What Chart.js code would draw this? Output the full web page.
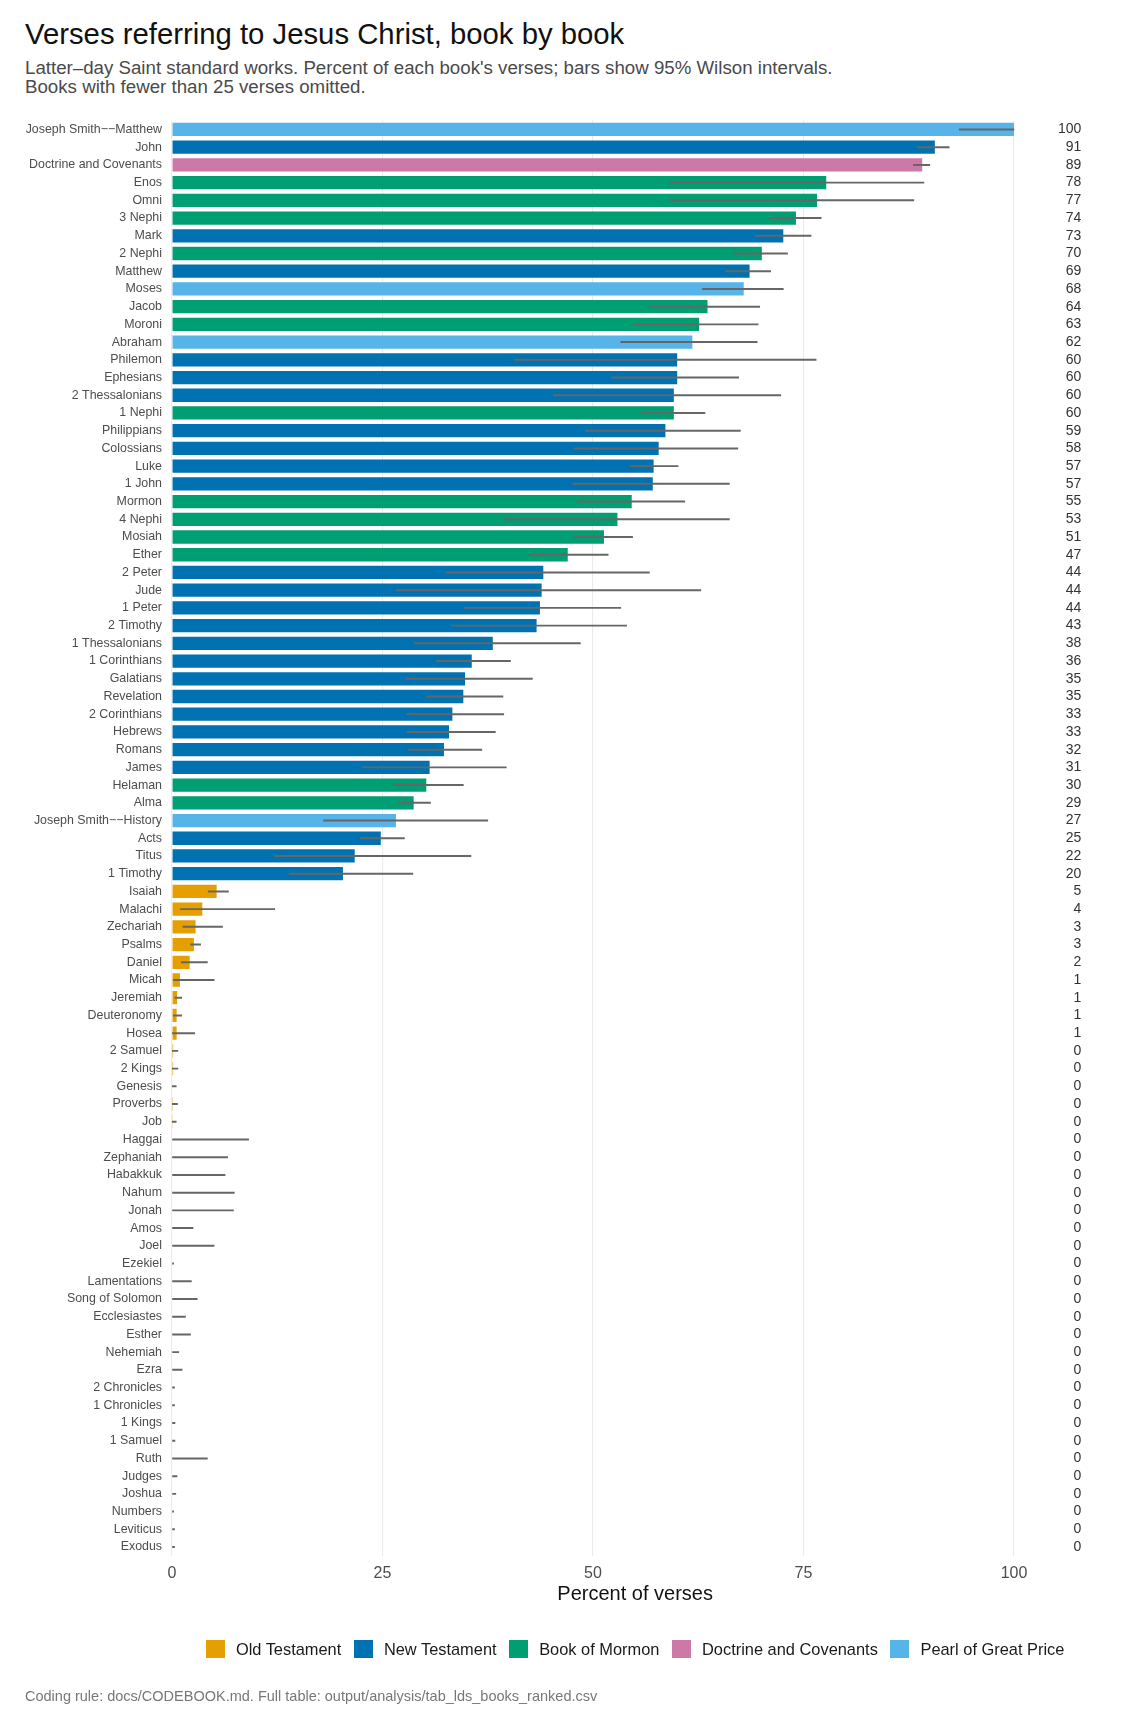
<!DOCTYPE html>
<html>
<head>
<meta charset="utf-8">
<script src="https://cdn.jsdelivr.net/npm/chart.js@4.4.1/dist/chart.umd.min.js"></script>
<style>
  html, body { margin: 0; padding: 0; background: #fff; }
  body { width: 1140px; height: 1725px; position: relative; overflow: hidden;
         font-family: "Liberation Sans", Arial, Helvetica, sans-serif; }
  #title { position: absolute; left: 25px; top: 17px; font-size: 29.3px; line-height: 34px;
           color: #111; white-space: nowrap; }
  #subtitle { position: absolute; left: 25px; top: 58px; font-size: 18.7px; line-height: 19px;
              color: #4a4a4a; white-space: nowrap; }
  #chart { position: absolute; left: 0; top: 0; }
  #legend { position: absolute; left: 172px; width: 926px; top: 1639px; height: 20px;
            display: flex; justify-content: center; align-items: center; gap: 12.3px;
            font-size: 16.4px; color: #1a1a1a; white-space: nowrap; }
  .item { display: flex; align-items: center; }
  .sw { width: 19px; height: 18px; margin-right: 11.3px; }
  #caption { position: absolute; left: 25px; top: 1688px; font-size: 14.5px; line-height: 17px;
             color: #777; white-space: nowrap; }
</style>
</head>
<body>
<div id="title">Verses referring to Jesus Christ, book by book</div>
<div id="subtitle">Latter–day Saint standard works. Percent of each book's verses; bars show 95% Wilson intervals.<br>Books with fewer than 25 verses omitted.</div>
<canvas id="chart" width="1140" height="1725" style="width:1140px;height:1725px"></canvas>
<div id="legend"></div>
<div id="caption">Coding rule: docs/CODEBOOK.md. Full table: output/analysis/tab_lds_books_ranked.csv</div>
<script>
// ---------------- data ----------------
const books = [
  "Joseph Smith−−Matthew","John","Doctrine and Covenants","Enos","Omni","3 Nephi","Mark","2 Nephi","Matthew","Moses",
  "Jacob","Moroni","Abraham","Philemon","Ephesians","2 Thessalonians","1 Nephi","Philippians","Colossians","Luke",
  "1 John","Mormon","4 Nephi","Mosiah","Ether","2 Peter","Jude","1 Peter","2 Timothy","1 Thessalonians",
  "1 Corinthians","Galatians","Revelation","2 Corinthians","Hebrews","Romans","James","Helaman","Alma","Joseph Smith−−History",
  "Acts","Titus","1 Timothy","Isaiah","Malachi","Zechariah","Psalms","Daniel","Micah","Jeremiah",
  "Deuteronomy","Hosea","2 Samuel","2 Kings","Genesis","Proverbs","Job","Haggai","Zephaniah","Habakkuk",
  "Nahum","Jonah","Amos","Joel","Ezekiel","Lamentations","Song of Solomon","Ecclesiastes","Esther","Nehemiah",
  "Ezra","2 Chronicles","1 Chronicles","1 Kings","1 Samuel","Ruth","Judges","Joshua","Numbers","Leviticus","Exodus"
];
const bookVolume = [
  "Pearl of Great Price","New Testament","Doctrine and Covenants","Book of Mormon","Book of Mormon","Book of Mormon","New Testament","Book of Mormon","New Testament","Pearl of Great Price",
  "Book of Mormon","Book of Mormon","Pearl of Great Price","New Testament","New Testament","New Testament","Book of Mormon","New Testament","New Testament","New Testament",
  "New Testament","Book of Mormon","Book of Mormon","Book of Mormon","Book of Mormon","New Testament","New Testament","New Testament","New Testament","New Testament",
  "New Testament","New Testament","New Testament","New Testament","New Testament","New Testament","New Testament","Book of Mormon","Book of Mormon","Pearl of Great Price",
  "New Testament","New Testament","New Testament","Old Testament","Old Testament","Old Testament","Old Testament","Old Testament","Old Testament","Old Testament",
  "Old Testament","Old Testament","Old Testament","Old Testament","Old Testament","Old Testament","Old Testament","Old Testament","Old Testament","Old Testament",
  "Old Testament","Old Testament","Old Testament","Old Testament","Old Testament","Old Testament","Old Testament","Old Testament","Old Testament","Old Testament",
  "Old Testament","Old Testament","Old Testament","Old Testament","Old Testament","Old Testament","Old Testament","Old Testament","Old Testament","Old Testament","Old Testament"
];
const pctVerses = [
  100, 90.6, 89.1, 77.7, 76.6, 74.1, 72.6, 70.05, 68.6, 67.9,
  63.6, 62.6, 61.8, 60.0, 60.0, 59.6, 59.6, 58.6, 57.8, 57.2,
  57.1, 54.6, 52.9, 51.3, 47.0, 44.1, 43.9, 43.7, 43.3, 38.1,
  35.6, 34.8, 34.6, 33.3, 32.9, 32.3, 30.6, 30.2, 28.7, 26.6,
  24.8, 21.7, 20.3, 5.3, 3.6, 2.8, 2.6, 2.1, 0.94, 0.6,
  0.55, 0.55, 0.14, 0.14, 0.07, 0.11, 0.09, 0, 0, 0,
  0, 0, 0, 0, 0, 0, 0, 0, 0, 0,
  0, 0, 0, 0, 0, 0, 0, 0, 0, 0, 0
];
const ciLow = [
  93.5, 88.5, 88.05, 59.1, 59.1, 71.0, 69.3, 66.7, 65.7, 63.0,
  56.7, 54.9, 53.3, 40.7, 52.2, 45.3, 55.7, 49.1, 47.8, 54.4,
  47.6, 48.2, 39.4, 47.8, 42.5, 32.5, 26.6, 34.7, 33.2, 28.8,
  31.4, 27.7, 30.2, 27.9, 27.9, 28.1, 22.6, 26.4, 26.9, 18.0,
  22.4, 12.2, 13.9, 4.3, 1.0, 1.3, 2.2, 1.1, 0.15, 0.35,
  0.15, 0.05, 0.02, 0.02, 0.02, 0.02, 0.02, 0, 0, 0,
  0, 0, 0, 0, 0, 0, 0, 0, 0, 0,
  0, 0, 0, 0, 0, 0, 0, 0, 0, 0, 0
];
const ciHigh = [
  100, 92.3, 90.0, 89.3, 88.1, 77.1, 75.9, 73.1, 71.1, 72.6,
  69.8, 69.6, 69.5, 76.5, 67.3, 72.3, 63.3, 67.5, 67.2, 60.1,
  66.2, 60.9, 66.2, 54.7, 51.8, 56.7, 62.8, 53.3, 54.0, 48.5,
  40.2, 42.8, 39.3, 39.4, 38.4, 36.8, 39.7, 34.6, 30.7, 37.5,
  27.6, 35.5, 28.6, 6.7, 12.2, 6.0, 3.4, 4.2, 5.0, 1.15,
  1.15, 2.7, 0.7, 0.7, 0.5, 0.65, 0.5, 9.1, 6.6, 6.3,
  7.4, 7.3, 2.5, 5.0, 0.2, 2.3, 3.0, 1.6, 2.2, 0.8,
  1.2, 0.3, 0.3, 0.35, 0.35, 4.2, 0.6, 0.45, 0.2, 0.3, 0.3
];
const volumeNames = ["Old Testament","New Testament","Book of Mormon","Doctrine and Covenants","Pearl of Great Price"];
const volumeColors = ["#E69F00","#0072B2","#009E73","#CC79A7","#56B4E9"];
const xTickValues = [0, 25, 50, 75, 100];
const xAxisMax = 110;
const valueLabelAt = 108;

// ---------------- chart ----------------
const FONT = '"Liberation Sans", Arial, Helvetica, sans-serif';
Chart.defaults.font.family = FONT;
const colorOf = v => volumeColors[volumeNames.indexOf(v)];

const valueLabels = {
  id: 'valueLabels',
  afterDatasetsDraw(chart) {
    const { ctx, scales: { x, y } } = chart;
    ctx.save();
    ctx.font = '14px ' + FONT;
    ctx.fillStyle = '#333';
    ctx.textAlign = 'right';
    ctx.textBaseline = 'middle';
    pctVerses.forEach((v, i) => {
      ctx.fillText(String(Math.round(v)), x.getPixelForValue(valueLabelAt), y.getPixelForValue(i));
    });
    ctx.restore();
  }
};

new Chart(document.getElementById('chart'), {
  type: 'bar',
  data: {
    labels: books,
    datasets: [
      {
        label: 'Percent of verses',
        data: pctVerses,
        backgroundColor: bookVolume.map(colorOf),
        borderWidth: 0,
        categoryPercentage: 1,
        barPercentage: 0.75,
        grouped: false,
        order: 2
      },
      {
        label: '95% Wilson interval',
        data: ciLow.map((lo, i) => [lo, ciHigh[i]]),
        backgroundColor: '#666666',
        borderWidth: 0,
        barThickness: 1.3,
        grouped: false,
        order: 1
      }
    ]
  },
  options: {
    indexAxis: 'y',
    responsive: false,
    animation: false,
    events: [],
    layout: { padding: { top: 120.6, left: 0, right: 41.8, bottom: 109.1 } },
    plugins: { legend: { display: false }, tooltip: { enabled: false }, title: { display: false } },
    scales: {
      x: {
        type: 'linear',
        min: 0,
        max: xAxisMax,
        position: 'bottom',
        afterBuildTicks: s => { s.ticks = xTickValues.map(v => ({ value: v })); },
        afterFit: s => { s.height = 60; },
        grid: { color: '#ebebeb', lineWidth: 1.1, drawTicks: false },
        border: { display: false },
        ticks: { padding: 8, color: '#4d4d4d', font: { size: 16 }, maxRotation: 0 },
        title: { display: true, text: 'Percent of verses', color: '#111', font: { size: 20 },
                 padding: { top: 0, bottom: 9 } }
      },
      y: {
        type: 'category',
        afterFit: s => { s.width = 172; },
        grid: { display: false, drawTicks: false },
        border: { display: false },
        ticks: { padding: 10, color: '#4d4d4d', font: { size: 12.4 }, autoSkip: false }
      }
    }
  },
  plugins: [valueLabels]
});

// legend (HTML)
const legend = document.getElementById('legend');
volumeNames.forEach((name, i) => {
  const item = document.createElement('div');
  item.className = 'item';
  const sw = document.createElement('span');
  sw.className = 'sw';
  sw.style.background = volumeColors[i];
  const t = document.createElement('span');
  t.textContent = name;
  item.appendChild(sw);
  item.appendChild(t);
  legend.appendChild(item);
});
</script>
</body>
</html>
